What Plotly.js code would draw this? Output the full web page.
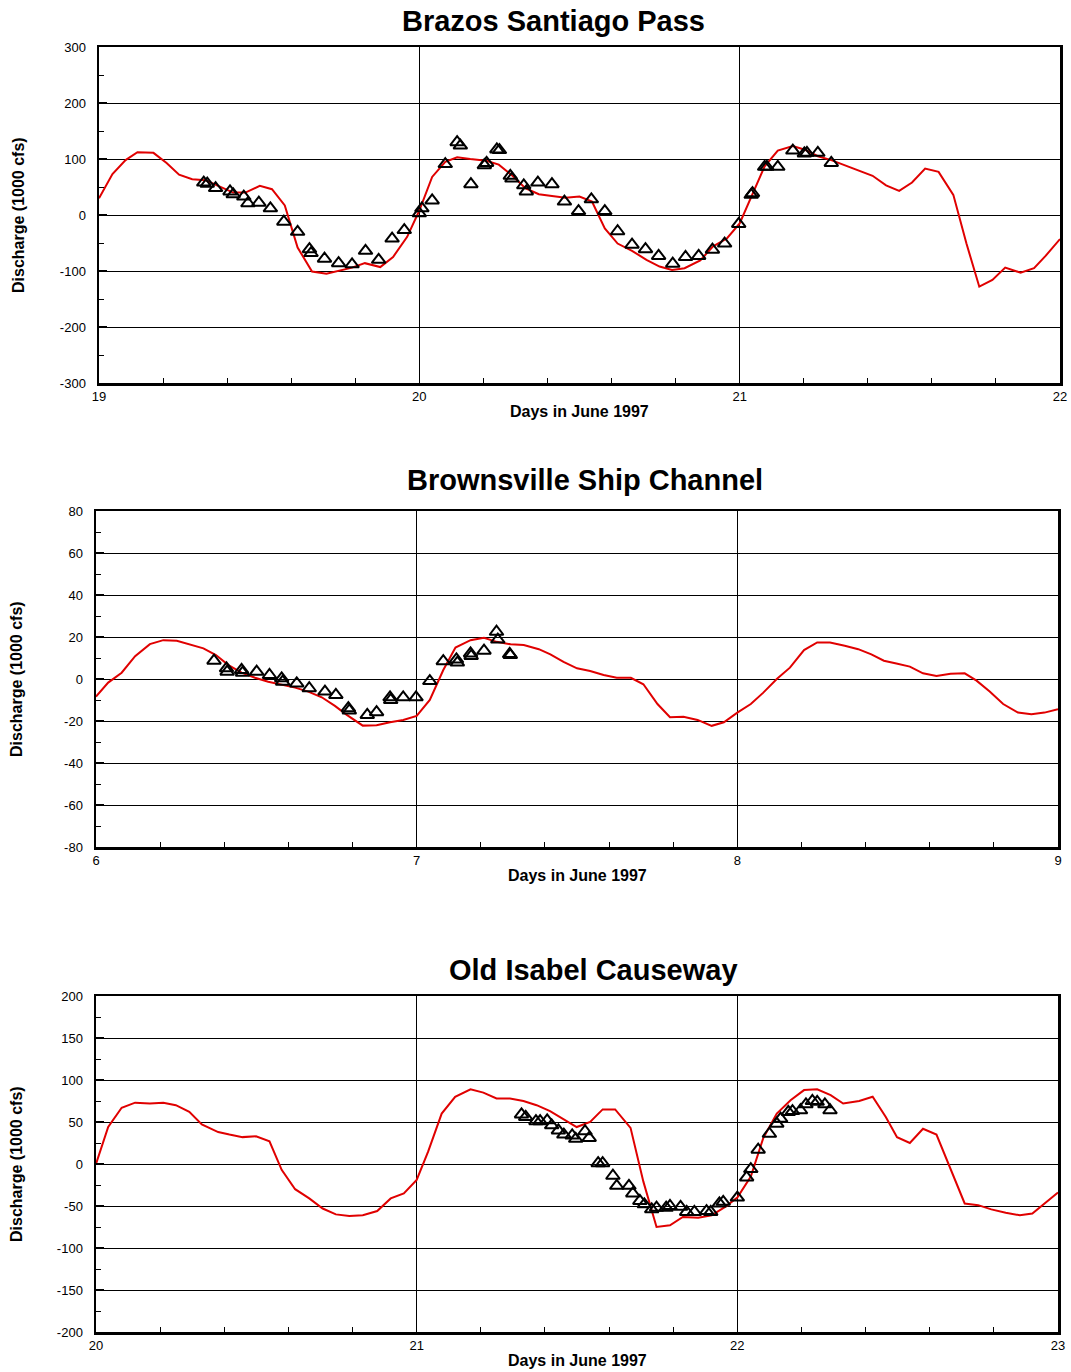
<!DOCTYPE html>
<html>
<head>
<meta charset="utf-8">
<script src="https://cdn.plot.ly/plotly-3.0.1.min.js"></script>
<style>html,body{margin:0;padding:0;background:#fff;}#chart{width:1071px;height:1372px;}</style>
</head>
<body>
<div id="chart"></div>
<script>
// ---------- Data ----------
const panelTitles = ["Brazos Santiago Pass", "Brownsville Ship Channel", "Old Isabel Causeway"];
const xAxisTitle = "Days in June 1997";
const yAxisTitle = "Discharge (1000 cfs)";

// Brazos Santiago Pass
const brazosModelDay = [19.0,19.042,19.083,19.12,19.17,19.211,19.25,19.291,19.333,19.374,19.419,19.457,19.502,19.54,19.58,19.62,19.665,19.71,19.751,19.79,19.83,19.878,19.918,19.962,
  20.0,20.04,20.081,20.118,20.159,20.209,20.248,20.289,20.331,20.373,20.414,20.456,20.5,20.539,20.579,20.619,20.664,20.709,20.75,20.789,20.828,20.877,20.917,20.96,
  21.0,21.036,21.078,21.119,21.166,21.206,21.244,21.286,21.327,21.374,21.415,21.457,21.498,21.538,21.579,21.621,21.667,21.708,21.748,21.789,21.829,21.877,21.919,21.955,22.0];
const brazosModelQ = [30,73,98,112,111,93,72,64,62,52,40,40,52,46,17,-58,-101,-105,-99,-94,-86,-93,-75,-39,
  8,68,95,103,100,97,90,71,48,37,34,31,33,24,-24,-51,-64,-80,-92,-98,-95,-81,-56,-42,
  -15,33,87,115,123,116,105,98,89,79,70,53,43,58,83,77,36,-51,-128,-116,-94,-103,-95,-73,-43];
const brazosObsDay = [19.327,19.338,19.364,19.409,19.419,19.452,19.465,19.499,19.535,19.577,19.62,19.657,19.662,19.704,19.748,19.79,19.832,19.873,19.915,19.953,
  20.0,20.008,20.04,20.081,20.118,20.128,20.161,20.203,20.21,20.242,20.25,20.284,20.289,20.326,20.334,20.37,20.414,20.453,20.497,20.537,20.579,20.619,20.664,20.706,20.747,20.791,20.831,20.872,20.915,20.953,20.997,
  21.036,21.04,21.078,21.085,21.119,21.166,21.202,21.21,21.244,21.286];
const brazosObsQ = [58,56,48,42,37,33,21,22,12,-12,-30,-61,-68,-78,-86,-88,-64,-80,-42,-27,
  3,12,26,91,130,124,55,89,93,117,116,70,65,53,42,58,55,24,7,28,7,-29,-53,-61,-73,-87,-75,-73,-62,-51,-16,
  36,39,86,86,86,115,110,111,111,93];

// Brownsville Ship Channel
const brownsModelDay = [6.0,6.038,6.08,6.122,6.168,6.21,6.252,6.293,6.335,6.374,6.413,6.454,6.496,6.537,6.579,6.621,6.662,6.704,6.745,6.782,6.832,6.875,6.917,6.958,
  7.0,7.041,7.083,7.121,7.168,7.21,7.249,7.293,7.334,7.381,7.417,7.458,7.5,7.541,7.583,7.624,7.668,7.707,7.751,7.79,7.832,7.876,7.92,7.958,
  8.0,8.042,8.081,8.123,8.164,8.208,8.249,8.289,8.335,8.377,8.418,8.457,8.496,8.538,8.579,8.621,8.665,8.709,8.746,8.787,8.829,8.875,8.917,8.958,9.0];
const brownsModelQ = [-8.4,-1.7,3,10.9,16.6,18.5,18.2,16.6,14.6,11.4,6.6,3,0.6,-1.3,-2.8,-4.1,-6,-8.7,-12.8,-17.1,-22.2,-22,-20.6,-19.5,
  -17.6,-10,4.3,15,18.5,19.6,17.7,16.5,16.2,14.2,11.7,8.2,5.1,3.8,1.9,0.6,0.6,-2.5,-11.9,-18.2,-18,-19.5,-22.3,-20.6,
  -16,-11.9,-6.5,0,5.4,13.8,17.4,17.4,15.8,14.2,11.7,8.7,7.4,5.9,2.7,1.4,2.5,2.7,-0.8,-6,-11.9,-16,-16.8,-16,-14.4];
const brownsObsDay = [6.368,6.407,6.409,6.454,6.457,6.501,6.541,6.579,6.582,6.626,6.665,6.714,6.748,6.787,6.79,6.846,6.875,6.917,6.919,6.958,6.998,
  7.041,7.083,7.124,7.127,7.168,7.17,7.21,7.249,7.253,7.29,7.292];
const brownsObsQ = [8.7,5.1,3.5,4.3,3,3.5,1.9,0.3,-1.3,-2.1,-4.4,-6,-7.6,-13.9,-15,-17.1,-15.8,-8.7,-10,-8.7,-8.7,
  -1,8.5,9.3,7.8,12.2,11,13.5,22.5,18.8,11.9,11.4];

// Old Isabel Causeway
const isabelModelDay = [20.0,20.038,20.08,20.122,20.168,20.21,20.249,20.291,20.33,20.381,20.416,20.457,20.499,20.541,20.579,20.621,20.665,20.707,20.748,20.79,20.832,20.877,20.919,20.96,
  21.0,21.036,21.078,21.12,21.168,21.208,21.249,21.291,21.333,21.374,21.416,21.457,21.499,21.541,21.58,21.619,21.667,21.707,21.748,21.79,21.83,21.878,21.92,21.962,
  22.0,22.042,22.081,22.123,22.166,22.208,22.249,22.291,22.33,22.38,22.422,22.463,22.498,22.538,22.579,22.621,22.665,22.709,22.751,22.792,22.837,22.881,22.92,22.958,23.0];
const isabelModelQ = [0,44,67,73,72,73,70,62,47,38,35,32,33,27,-7,-30,-41,-53,-60,-62,-61,-56,-41,-35,
  -19,15,60,80,89,85,78,78,75,70,63,54,44,50,65,65,43,-21,-75,-73,-63,-64,-61,-51,
  -40,-15,31,60,76,88,89,82,72,75,80,56,32,25,42,35,-5,-47,-49,-54,-58,-61,-59,-47,-34];
const isabelObsDay = [21.327,21.34,21.372,21.385,21.407,21.421,21.442,21.459,21.485,21.496,21.525,21.538,21.566,21.58,21.612,21.624,21.662,21.674,21.696,21.71,21.733,21.748,21.778,21.79,21.823,21.842,21.866,21.904,21.917,21.944,21.956,
  22.0,22.029,22.042,22.065,22.1,22.123,22.135,22.159,22.172,22.197,22.214,22.234,22.249,22.273,22.289];
const isabelObsQ = [59,56,51,51,52,46,40,35,34,30,39,31,1,1,-14,-26,-26,-35,-44,-48,-54,-52,-52,-50,-51,-57,-57,-56,-57,-47,-45,
  -40,-16,-6,17,36,48,54,62,63,64,71,75,74,71,64];

// Axis ranges and tick labels
const xRanges = [[19,22],[6,9],[20,23]];
const yRanges = [[-300,300],[-80,80],[-200,200]];
const yDticks = [100,20,50];
const xTickVals = [[19,20,21,22],[6,7,8,9],[20,21,22,23]];
const xTickLabels = [["19","20","21","22"],["6","7","8","9"],["20","21","22","23"]];
const yTickVals = [[-300,-200,-100,0,100,200,300],[-80,-60,-40,-20,0,20,40,60,80],[-200,-150,-100,-50,0,50,100,150,200]];
const yTickLabels = [["-300","-200","-100","0","100","200","300"],["-80","-60","-40","-20","0","20","40","60","80"],["-200","-150","-100","-50","0","50","100","150","200"]];

// ---------- Build ----------
const W = 1071, H = 1372;
const boxes = [ // pixel plot areas [left,right,top,bottom]
  [99,1060,47,383],
  [96,1058,511,847],
  [96,1058,996,1332]
];
const FONT = "Liberation Sans, Arial, sans-serif";
const models = [[brazosModelDay,brazosModelQ],[brownsModelDay,brownsModelQ],[isabelModelDay,isabelModelQ]];
const obs = [[brazosObsDay,brazosObsQ],[brownsObsDay,brownsObsQ],[isabelObsDay,isabelObsQ]];

const traces = [];
const layout = {
  width: W, height: H,
  margin: {l:0,r:0,t:0,b:0},
  paper_bgcolor: "#fff", plot_bgcolor: "#fff",
  showlegend: false,
  font: {family: FONT, color: "#000"},
  annotations: []
};

for (let i = 0; i < 3; i++) {
  const s = i === 0 ? "" : String(i+1);
  const b = boxes[i];
  traces.push({
    x: models[i][0], y: models[i][1], xaxis: "x"+s, yaxis: "y"+s,
    type: "scatter", mode: "lines",
    line: {color: "#e00000", width: 2}, hoverinfo: "skip"
  });
  traces.push({
    x: obs[i][0], y: obs[i][1], xaxis: "x"+s, yaxis: "y"+s,
    type: "scatter", mode: "markers",
    marker: {symbol: "triangle-up-open", size: 12, color: "#000", line: {color: "#000", width: 2}},
    hoverinfo: "skip"
  });
  const common = {
    showline: true, mirror: true, linecolor: "#000", linewidth: 2.5,
    showgrid: true, gridcolor: "#000", gridwidth: 1,
    zeroline: false, ticks: "inside", ticklen: 8, tickwidth: 1.5, tickcolor: "#000",
    tickfont: {family: FONT, size: 13, color: "#000"},
    fixedrange: true
  };
  layout["xaxis"+s] = Object.assign({}, common, {
    domain: [b[0]/W, b[1]/W], anchor: "y"+s,
    range: xRanges[i], tickmode: "array", tickvals: xTickVals[i], ticktext: xTickLabels[i],
    minor: {dtick: 0.2, tick0: 0, ticks: "inside", ticklen: 5, tickcolor: "#000", tickwidth: 1, showgrid: false}
  });
  layout["yaxis"+s] = Object.assign({}, common, {
    domain: [1 - b[3]/H, 1 - b[2]/H], anchor: "x"+s,
    range: yRanges[i], tickmode: "array", tickvals: yTickVals[i], ticktext: yTickLabels[i],
    ticklabelstandoff: 8,
    minor: {dtick: yDticks[i]/2, tick0: 0, ticks: "inside", ticklen: 5, tickcolor: "#000", tickwidth: 1, showgrid: false}
  });
}

// titles
const titlePos = [[553,21],[585,480],[593,970]];
const xTitlePos = [[579,411],[577,875],[577,1360]];
const yTitlePos = [[19,215],[16,679],[16,1164]];
for (let i = 0; i < 3; i++) {
  layout.annotations.push({
    text: "<b>"+panelTitles[i]+"</b>", xref: "paper", yref: "paper",
    x: titlePos[i][0]/W, y: 1 - titlePos[i][1]/H, xanchor: "center", yanchor: "middle",
    showarrow: false, font: {family: FONT, size: 29, color: "#000"}
  });
  layout.annotations.push({
    text: "<b>"+xAxisTitle+"</b>", xref: "paper", yref: "paper",
    x: xTitlePos[i][0]/W, y: 1 - xTitlePos[i][1]/H, xanchor: "center", yanchor: "middle",
    showarrow: false, font: {family: FONT, size: 16, color: "#000"}
  });
  layout.annotations.push({
    text: "<b>"+yAxisTitle+"</b>", xref: "paper", yref: "paper", textangle: -90,
    x: yTitlePos[i][0]/W, y: 1 - yTitlePos[i][1]/H, xanchor: "center", yanchor: "middle",
    showarrow: false, font: {family: FONT, size: 16, color: "#000"}
  });
}

Plotly.newPlot("chart", traces, layout, {displayModeBar: false, staticPlot: true});
</script>
</body>
</html>
